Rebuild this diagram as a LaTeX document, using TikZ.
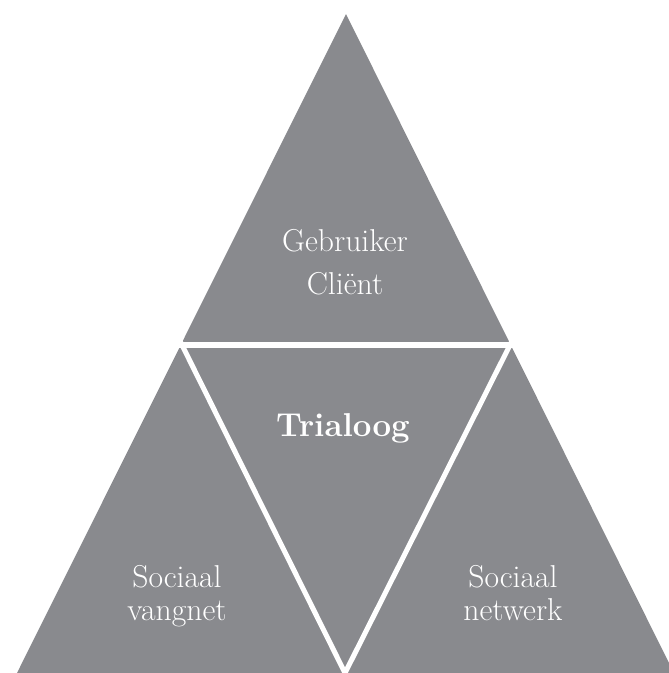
\documentclass[tikz,border=0pt]{standalone}
\usepackage{tikz}
\usetikzlibrary{calc}
\definecolor{pyrgray}{RGB}{137,138,142}

\begin{document}
\begin{tikzpicture}[x=0.025cm, y=-0.025cm]
                    \useasboundingbox (0,0) rectangle (669,673);
                    \clip (0,0) rectangle (669,673);

                    \coordinate (top) at (346,14);
                    \coordinate (bl) at (17,673);
                    \coordinate (br) at (674,673);
                    \coordinate (ml) at (182,345);
                    \coordinate (mr) at (510,345);
                    \coordinate (mb) at (345,673);

                    \fill[pyrgray] (top) -- (bl) -- (br) -- cycle;
                    \draw[white, line width=3.6pt] ($(ml)!-0.2!(mr)$) -- ($(mr)!-0.2!(ml)$);
                    \draw[white, line width=3.6pt, line join=miter] ($(ml)!-0.2!(mb)$) -- (mb) -- ($(mr)!-0.2!(mb)$);

                    \node[white, align=center, font=\fontsize{22.5}{31}\selectfont] (user) at (345,262) {Gebruiker\\Cliënt};
                    \node[white, font=\fontsize{23.5}{26}\selectfont\bfseries] (tria) at (343,428) {Trialoog};
                    \node[white, align=center, font=\fontsize{22.5}{23.5}\selectfont] (vang) at (177,596) {Sociaal\\vangnet};
                    \node[white, align=center, font=\fontsize{22.5}{23.5}\selectfont] (netw) at (513,593) {Sociaal\\netwerk};

                \end{tikzpicture}
\end{document}
